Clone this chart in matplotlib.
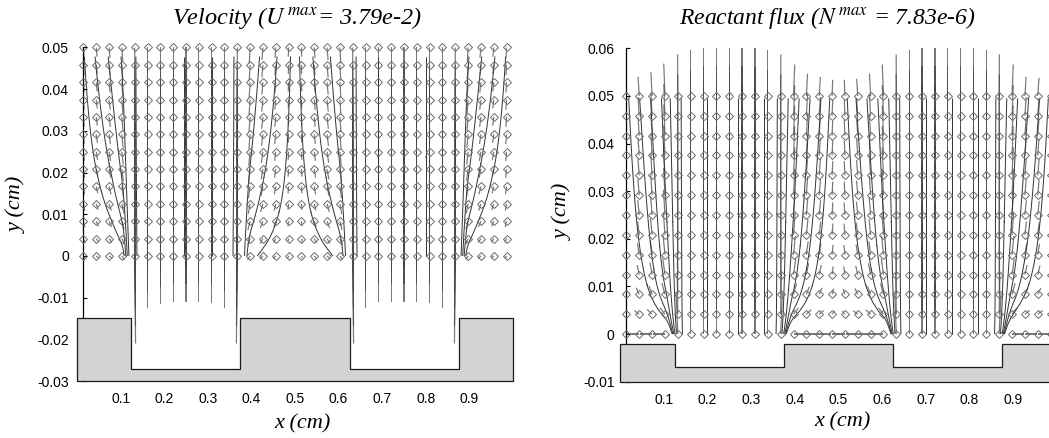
import numpy as np
import matplotlib
import matplotlib.pyplot as plt
from matplotlib.patches import Polygon

matplotlib.use("Agg")

plt.rcParams["axes.unicode_minus"] = False
plt.rcParams["mathtext.fontset"] = "stix"
plt.rcParams["font.family"] = ["Liberation Sans", "DejaVu Sans"]

# sampling grid of the vector plots (34 columns x 13 rows)
x_cols = np.linspace(1 / 68, 67 / 68, 34)
y_rows = np.linspace(0.0, 0.05, 13)

# substrate outline: trench walls and (plateau top, trench floor, base) levels
trench_walls = [0.125, 0.375, 0.625, 0.875]
vel_levels = [-0.015, -0.027, -0.03]
flux_levels = [-0.002, -0.007, -0.01]

# ---- velocity field (arrow components in cm) ----
# strong downward part over the trenches, same at every height
vel_jet = [0, 0, 0, 0,
           -0.021, -0.0125, -0.0115, -0.011, -0.011, -0.011, -0.0112, -0.0125, -0.021,
           0, 0, 0, 0, 0, 0, 0, 0,
           -0.021, -0.0125, -0.011, -0.011, -0.011, -0.011, -0.0112, -0.0125, -0.021,
           0, 0, 0, 0]
# slow downward part over the plateaus (top row values)
vel_slow = [-0.0025, -0.0022, -0.0025, -0.0035,
            0, 0, 0, 0, 0, 0, 0, 0, 0,
            -0.0038, -0.003, -0.0025, -0.0022, -0.0022, -0.0025, -0.003, -0.0038,
            0, 0, 0, 0, 0, 0, 0, 0, 0,
            -0.0035, -0.0025, -0.0022, -0.0025]
# sideways part (bottom row values)
vel_u = [0.004, 0.006, 0.007, 0.006,
         0.002, 0, 0, 0, 0, 0, 0, 0, -0.002,
         -0.006, -0.007, -0.005, -0.002, 0.002, 0.005, 0.007, 0.006,
         0.002, 0, 0, 0, 0, 0, 0, 0, -0.002,
         -0.006, -0.007, -0.006, -0.004]
vel_slow_row = [0.25, 0.4, 0.55, 0.65, 0.75, 0.82, 0.88, 0.92, 0.95, 0.97, 0.99, 1.0, 1.0]
vel_u_row = [1.0, 0.95, 0.85, 0.75, 0.65, 0.58, 0.52, 0.47, 0.43, 0.4, 0.37, 0.35, 0.33]
vel_seeds = [0.016, 0.04, 0.07, 0.1, 0.135, 0.245, 0.31, 0.36, 0.42, 0.46, 0.49,
             0.51, 0.54, 0.58, 0.64, 0.69, 0.8, 0.9, 0.93, 0.96, 0.984]
vel_yticks = [-0.03, -0.02, -0.01, 0, 0.01, 0.02, 0.03, 0.04, 0.05]

# ---- reactant flux field (arrows drawn upward from the grid points) ----
flux_jet = [0, 0, 0, 0,
            0.0087, 0.0097, 0.0104, 0.0104, 0.0104, 0.0104, 0.0102, 0.0097, 0.0087,
            0, 0, 0, 0, 0, 0, 0, 0,
            0.0087, 0.0097, 0.0104, 0.0104, 0.0104, 0.0104, 0.0104, 0.0097, 0.0087,
            0, 0, 0, 0]
flux_slow = [0.004, 0.004, 0.005, 0.0068,
             0, 0, 0, 0, 0, 0, 0, 0, 0,
             0.0066, 0.0047, 0.004, 0.0034, 0.0034, 0.0036, 0.0047, 0.0066,
             0, 0, 0, 0, 0, 0, 0, 0, 0,
             0.0066, 0.004, 0.0038, 0.004]
flux_u = [-0.02, -0.028, -0.028, -0.028,
          -0.004, 0, 0, 0, 0, 0, 0, 0, 0.004,
          0.028, 0.028, 0.026, 0.015, -0.015, -0.026, -0.028, -0.028,
          -0.004, 0, 0, 0, 0, 0, 0, 0, 0.004,
          0.028, 0.028, 0.028, 0.02]
flux_slow_row = [0.0, 0.2, 0.35, 0.5, 0.6, 0.7, 0.78, 0.84, 0.89, 0.93, 0.96, 0.98, 1.0]
flux_u_row = [1.0, 0.4, 0.25, 0.18, 0.15, 0.13, 0.12, 0.11, 0.11, 0.1, 0.1, 0.1, 0.1]
flux_seeds = [0.02, 0.045, 0.07, 0.095, 0.115, 0.14, 0.2, 0.27, 0.33, 0.36, 0.385,
              0.41, 0.435, 0.46, 0.48, 0.52, 0.54, 0.565, 0.59, 0.615, 0.64, 0.7,
              0.76, 0.82, 0.86, 0.885, 0.91, 0.935, 0.96, 0.98]
flux_yticks = [-0.01, 0, 0.01, 0.02, 0.03, 0.04, 0.05, 0.06]

W, H = 1049, 438
fig = plt.figure(figsize=(W / 100, H / 100), dpi=100)


def substrate(ax, levels):
    top, floor, base = levels
    a, b, c, d = trench_walls
    pts = [(0, base), (0, top), (a, top), (a, floor), (b, floor), (b, top),
           (c, top), (c, floor), (d, floor), (d, top), (1, top), (1, base)]
    ax.add_patch(Polygon(pts, closed=True, facecolor="#d2d3d5", edgecolor="0.1",
                         linewidth=0.9, zorder=5, clip_on=False))


def panel(ax, jet, slow, u, slow_row, u_row, seeds, direction, levels, yticks, pad):
    X, Y = np.meshgrid(x_cols, y_rows)
    U = np.outer(u_row, u)
    V = np.asarray(jet)[None, :] + np.outer(slow_row, slow)

    ax.quiver(X, Y, U, V, angles="xy", scale_units="xy", scale=1, units="dots",
              width=1.2, headwidth=0, headlength=0, headaxislength=0, minlength=0,
              color="0.25", alpha=0.7, zorder=2)
    ax.streamplot(x_cols, y_rows, U, V, start_points=[(s, 0.0495) for s in seeds],
                  integration_direction=direction, broken_streamlines=False,
                  minlength=0.01, color="0.2", linewidth=0.7, arrowstyle="-",
                  zorder=3)
    ax.plot(X.ravel(), Y.ravel(), "D", ms=4.3, mfc="none", mec="0.42", mew=0.7,
            ls="none", clip_on=False, zorder=4)

    substrate(ax, levels)
    ax.set_xlim(x_cols[0], x_cols[-1])
    ax.set_ylim(yticks[0], yticks[-1])
    for side in ["top", "right", "bottom"]:
        ax.spines[side].set_visible(False)
    ax.spines["left"].set_linewidth(0.9)
    ax.set_yticks(yticks)
    ax.set_yticklabels([f"{t:g}" for t in yticks])
    ax.set_xticks([0.1, 0.2, 0.3, 0.4, 0.5, 0.6, 0.7, 0.8, 0.9])
    ax.set_xticklabels(["0.1", "0.2", "0.3", "0.4", "0.5", "0.6", "0.7", "0.8", "0.9"])
    ax.tick_params(axis="y", direction="in", length=3, width=0.8, pad=pad, labelsize=10)
    ax.tick_params(axis="x", length=0, pad=8, labelsize=10)


ax1 = fig.add_axes([83.4 / W, 0.1301, 423.2 / W, 0.7615])
panel(ax1, vel_jet, vel_slow, vel_u, vel_slow_row, vel_u_row, vel_seeds,
      "forward", vel_levels, vel_yticks, 10.5)

ax2 = fig.add_axes([626.4 / W, 0.1285, 424.2 / W, 0.7612])
panel(ax2, flux_jet, flux_slow, flux_u, flux_slow_row, flux_u_row, flux_seeds,
      "backward", flux_levels, flux_yticks, 8.5)

serif = dict(family=["Liberation Serif", "DejaVu Serif"], style="italic")
fig.text(297 / W, 1 - 18 / H, r"Velocity ($U^{\,max}$= 3.79e-2)", ha="center",
         va="center", fontsize=17.5, **serif)
fig.text(827 / W, 1 - 18 / H, r"Reactant flux ($N^{\,max}$ = 7.83e-6)", ha="center",
         va="center", fontsize=17, **serif)
fig.text(302 / W, 1 - 424 / H, "x (cm)", ha="center", va="center", fontsize=16, **serif)
fig.text(842 / W, 1 - 422 / H, "x (cm)", ha="center", va="center", fontsize=16, **serif)
fig.text(17 / W, 1 - 205 / H, "y (cm)", ha="center", va="center", rotation=90,
         fontsize=16, **serif)
fig.text(563 / W, 1 - 212 / H, "y (cm)", ha="center", va="center", rotation=90,
         fontsize=16, **serif)

fig.savefig("out.png", dpi=100)
